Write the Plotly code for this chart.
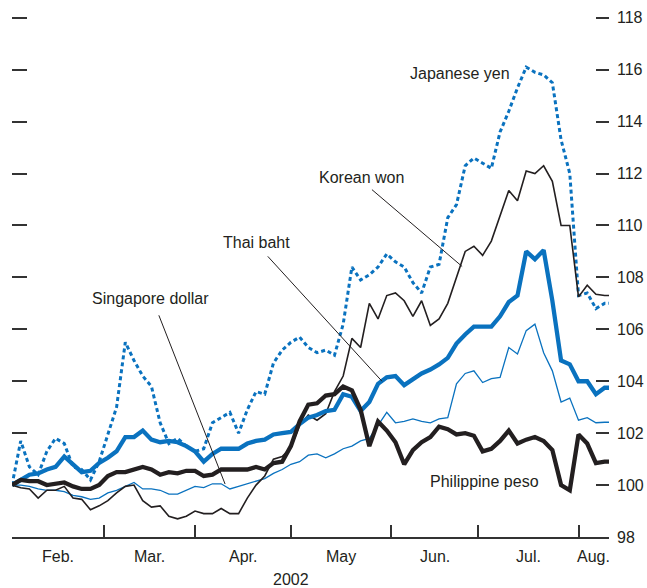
import pandas as pd
import plotly.graph_objects as go

# trading days Jan 31 - Aug 12, 2002; values read every second trading day
days = pd.bdate_range("2002-01-31", "2002-08-12")
obs = list(range(0, len(days), 2)) + [len(days) - 1]

# indices, 100 = start of period
yen = [100.0, 101.7, 100.7, 100.4, 101.3, 101.8, 101.6, 100.7, 100.6, 100.2,
       100.9, 102.0, 103.0, 105.5, 104.8, 104.2, 103.8, 102.4, 101.6, 101.8,
       101.5, 101.3, 101.4, 102.4, 102.6, 102.8, 102.0, 102.9, 103.6, 103.5,
       104.7, 105.2, 105.5, 105.7, 105.3, 105.1, 105.2, 105.0, 106.2, 108.4,
       107.9, 108.1, 108.4, 108.9, 108.6, 108.4, 107.8, 107.4, 108.4, 108.5,
       110.3, 110.8, 112.3, 112.6, 112.4, 112.2, 113.6, 114.4, 115.3, 116.1,
       115.9, 115.8, 115.5, 113.3, 112.0, 107.3, 107.4, 106.8, 107.0, 107.0]

won = [100.0, 99.9, 99.85, 99.5, 99.8, 99.8, 99.95, 99.5, 99.45, 99.05,
       99.2, 99.4, 99.7, 99.95, 100.0, 99.4, 99.15, 99.2, 98.8, 98.7,
       98.8, 99.0, 98.9, 98.9, 99.1, 98.9, 98.9, 99.5, 100.0, 100.35,
       101.0, 101.1, 101.45, 102.3, 102.7, 102.5, 102.75, 103.6, 104.2, 105.65,
       105.3, 107.0, 106.4, 107.3, 107.4, 107.1, 106.5, 107.1, 106.15, 106.4,
       107.0, 108.0, 109.0, 109.2, 108.85, 109.4, 110.4, 111.35, 110.95, 112.1,
       112.0, 112.3, 111.7, 110.0, 110.0, 107.25, 107.7, 107.35, 107.3, 107.3]

baht = [100.0, 100.2, 100.4, 100.45, 100.6, 100.7, 101.1, 100.8, 100.5, 100.55,
        100.85, 101.05, 101.3, 101.85, 101.85, 102.1, 101.75, 101.65, 101.7, 101.65,
        101.5, 101.3, 100.9, 101.2, 101.4, 101.4, 101.4, 101.6, 101.7, 101.75,
        101.95, 102.0, 102.05, 102.35, 102.6, 102.7, 102.85, 102.9, 103.5, 103.4,
        102.85, 103.2, 103.9, 104.15, 104.2, 103.85, 104.1, 104.3, 104.45, 104.65,
        104.9, 105.45, 105.8, 106.1, 106.1, 106.1, 106.5, 107.05, 107.3, 109.0,
        108.7, 109.05, 107.1, 104.8, 104.65, 104.0, 104.0, 103.5, 103.75, 103.75]

sgd = [100.0, 100.0, 99.95, 99.85, 99.8, 99.8, 99.75, 99.6, 99.55, 99.45,
       99.5, 99.7, 99.8, 99.95, 100.1, 99.85, 99.85, 99.8, 99.65, 99.65,
       99.8, 99.95, 99.9, 100.05, 100.05, 99.85, 99.95, 100.05, 100.15, 100.25,
       100.45, 100.6, 100.8, 100.9, 101.15, 101.2, 101.05, 101.2, 101.4, 101.5,
       101.7, 101.8, 102.3, 102.8, 102.4, 102.45, 102.55, 102.45, 102.4, 102.55,
       102.6, 103.9, 104.3, 104.4, 103.95, 104.1, 104.15, 105.3, 105.05, 105.95,
       106.2, 105.1, 104.4, 103.2, 103.35, 102.5, 102.6, 102.4, 102.42, 102.42]

peso = [100.0, 100.2, 100.15, 100.15, 100.0, 100.05, 100.1, 99.95, 99.85, 99.85,
        100.0, 100.35, 100.5, 100.5, 100.6, 100.7, 100.6, 100.4, 100.5, 100.45,
        100.55, 100.55, 100.35, 100.4, 100.6, 100.6, 100.6, 100.6, 100.7, 100.6,
        100.85, 100.9, 101.5, 102.45, 103.1, 103.15, 103.45, 103.5, 103.8, 103.65,
        102.9, 101.5, 102.45, 102.1, 101.65, 100.8, 101.35, 101.65, 101.85, 102.25,
        102.15, 101.95, 102.0, 101.9, 101.3, 101.4, 101.7, 102.1, 101.6, 101.75,
        101.85, 101.7, 101.35, 100.0, 99.8, 101.95, 101.6, 100.85, 100.9, 100.9]

month_names = ["Feb.", "Mar.", "Apr.", "May", "Jun.", "Jul.", "Aug."]
month_starts = ["2002-03-01", "2002-04-01", "2002-05-01", "2002-06-03",
                "2002-07-01", "2002-08-01"]
right_ticks = list(range(98, 119, 2))
left_ticks = list(range(102, 119, 2))

BLUE = "#0a72bf"
INK = "#231f20"
FONT = "Liberation Sans, Arial, sans-serif"

tick_idx = [0] + [days.get_loc(pd.Timestamp(d)) for d in month_starts] + [len(days) - 1]

fig = go.Figure()
fig.add_trace(go.Scatter(x=obs, y=yen, mode="lines",
                         line=dict(color=BLUE, width=3, dash="4px,3px")))
fig.add_trace(go.Scatter(x=obs, y=sgd, mode="lines",
                         line=dict(color=BLUE, width=1.3)))
fig.add_trace(go.Scatter(x=obs, y=won, mode="lines",
                         line=dict(color=INK, width=1.6)))
fig.add_trace(go.Scatter(x=obs, y=baht, mode="lines",
                         line=dict(color=BLUE, width=4.3)))
fig.add_trace(go.Scatter(x=obs, y=peso, mode="lines", yaxis="y2",
                         line=dict(color=INK, width=4.3)))

# series labels (index position, value)
labels = [("Japanese yen", 102.8, 115.85),
          ("Korean won", 80.3, 111.85),
          ("Thai baht", 56.0, 109.35),
          ("Singapore dollar", 31.7, 107.2),
          ("Philippine peso", 108.5, 100.12)]
for txt, lx, ly in labels:
    fig.add_annotation(x=lx, y=ly, text=txt, showarrow=False,
                       font=dict(size=16, color=INK, family=FONT))

# leader lines
leaders = [(82.6, 111.38, 103.3, 108.42),
           (58.7, 108.81, 84.9, 104.0),
           (33.7, 106.54, 48.9, 100.04)]
for x0, y0, x1, y1 in leaders:
    fig.add_shape(type="line", xref="x", yref="y", x0=x0, y0=y0, x1=x1, y1=y1,
                  line=dict(color=INK, width=1))

# month labels between ticks
for k, name in enumerate(month_names):
    fig.add_annotation(x=(tick_idx[k] + tick_idx[k + 1]) / 2, y=0, yref="paper",
                       yanchor="middle", yshift=-19, text=name, showarrow=False,
                       font=dict(size=16, color=INK, family=FONT))
fig.add_annotation(x=tick_idx[3], y=0, yref="paper", yanchor="middle", yshift=-42,
                   text="2002", showarrow=False,
                   font=dict(size=16, color=INK, family=FONT))

fig.update_layout(
    width=647, height=588,
    margin=dict(l=12, r=38, t=10, b=51),
    paper_bgcolor="white", plot_bgcolor="white",
    showlegend=False,
    font=dict(family=FONT, color=INK),
    xaxis=dict(range=[0, len(days) - 1], tickvals=tick_idx, ticks="inside",
               ticklen=12, tickwidth=1.5, tickcolor="#333", showticklabels=False,
               showline=True, linecolor="#333", linewidth=1.5,
               showgrid=False, zeroline=False),
    yaxis=dict(range=[98, 118.3], side="right", tickvals=right_ticks,
               ticks="inside", ticklen=13, tickwidth=2, tickcolor="#333",
               tickfont=dict(size=16, color=INK, family=FONT),
               ticklabelstandoff=7,
               showline=False, showgrid=False, zeroline=False, automargin=False),
    yaxis2=dict(range=[98, 118.3], overlaying="y", side="left",
                tickvals=left_ticks, ticks="inside", ticklen=15, tickwidth=2,
                tickcolor="#333", showticklabels=False,
                showline=False, showgrid=False, zeroline=False),
)

# drop the page's default body margin so the figure sits at the window corner
fig.write_html("out.html", config={"displayModeBar": False},
               post_script="document.body.style.margin='0';")
